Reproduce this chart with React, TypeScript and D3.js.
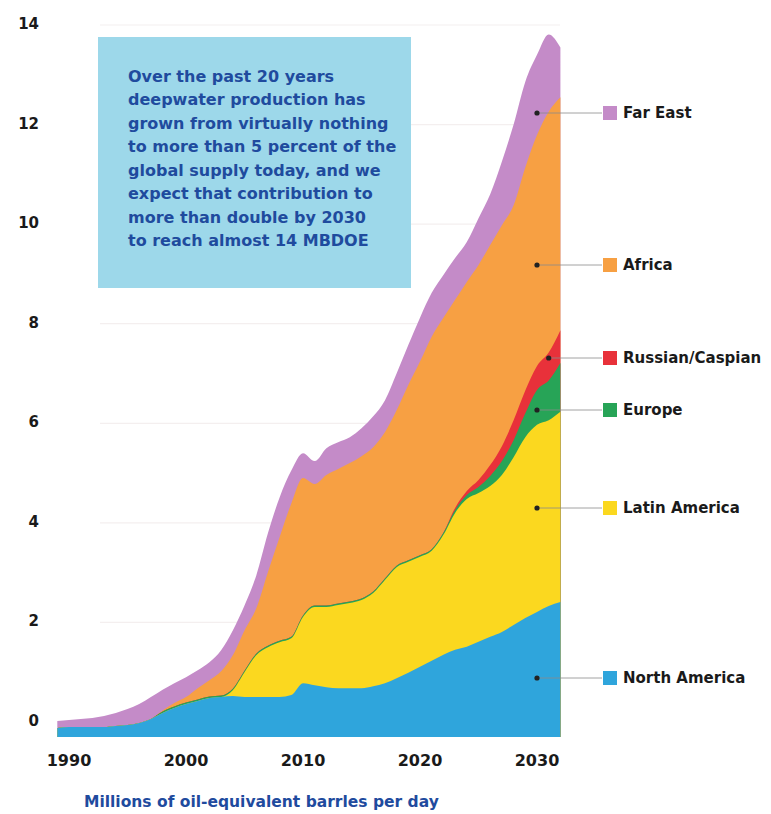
import React from "react";
import * as d3 from "d3";

const years = [1989,1990,1991,1992,1993,1994,1995,1996,1997,1998,1999,2000,2001,2002,2003,2004,2005,2006,2007,2008,2009,2010,2011,2012,2013,2014,2015,2016,2017,2018,2019,2020,2021,2022,2023,2024,2025,2026,2027,2028,2029,2030,2031,2032];

const northAmerica = [0.18,0.2,0.2,0.2,0.2,0.22,0.24,0.28,0.36,0.48,0.58,0.66,0.72,0.78,0.8,0.82,0.8,0.8,0.8,0.8,0.84,1.08,1.04,1.0,0.98,0.98,0.98,1.02,1.08,1.18,1.29,1.41,1.53,1.65,1.75,1.81,1.91,2.01,2.11,2.25,2.39,2.51,2.63,2.71];
const latinAmerica = [0,0,0,0,0,0,0,0,0,0,0,0,0,0,0,0.12,0.5,0.84,1.0,1.1,1.14,1.33,1.57,1.61,1.67,1.71,1.77,1.87,2.07,2.23,2.23,2.21,2.21,2.41,2.75,2.97,2.99,3.03,3.15,3.37,3.63,3.76,3.73,3.82];
const europe = [0,0,0,0,0,0,0,0,0,0.03,0.03,0.03,0.03,0.03,0.03,0.03,0.03,0.03,0.03,0.03,0.03,0.03,0.03,0.03,0.03,0.03,0.03,0.03,0.03,0.03,0.03,0.03,0.03,0.04,0.06,0.08,0.12,0.2,0.28,0.34,0.48,0.7,0.8,0.98];
const russianCaspian = [0,0,0,0,0,0,0,0,0,0,0,0,0,0,0,0,0,0,0,0,0,0,0,0,0,0,0,0,0,0,0,0,0,0,0.04,0.08,0.14,0.22,0.3,0.4,0.46,0.48,0.56,0.66];
const africa = [0,0,0,0,0,0,0,0,0,0.02,0.07,0.11,0.23,0.33,0.49,0.67,0.81,0.91,1.48,2.08,2.68,2.76,2.44,2.62,2.7,2.78,2.86,2.9,2.94,3.12,3.52,3.89,4.27,4.32,4.18,4.2,4.32,4.42,4.44,4.32,4.48,4.64,4.84,4.68];
const farEast = [0.14,0.14,0.16,0.18,0.22,0.26,0.32,0.38,0.44,0.42,0.4,0.4,0.36,0.36,0.42,0.5,0.5,0.66,0.78,0.8,0.66,0.5,0.46,0.54,0.54,0.52,0.56,0.62,0.64,0.74,0.8,0.88,0.88,0.86,0.84,0.8,0.94,1.02,1.28,1.62,1.72,1.61,1.55,1.0];

const seriesKeys = ["northAmerica","latinAmerica","europe","russianCaspian","africa","farEast"];
const seriesLabels = ["North America","Latin America","Europe","Russian/Caspian","Africa","Far East"];
const seriesColors = ["#2fa5dc","#fbd81f","#27a457","#e8313a","#f7a043","#c48bc8"];

const yTicks = [0,2,4,6,8,10,12,14];
const xTicks = [1990,2000,2010,2020,2030];

const noteLines = [
  "Over the past 20 years",
  "deepwater production has",
  "grown from virtually nothing",
  "to more than 5 percent of the",
  "global supply today, and we",
  "expect that contribution to",
  "more than double by 2030",
  "to reach almost 14 MBDOE",
];
const axisTitle = "Millions of oil-equivalent barrles per day";

// stack baseline sits a little below the zero line, as in the original artwork
const BASE = -0.3;

// legend layout (pixel rows) and the year where each leader dot sits
const legendRows = [
  { key: "farEast", y: 113, year: 2030 },
  { key: "africa", y: 265, year: 2030 },
  { key: "russianCaspian", y: 358, year: 2031 },
  { key: "europe", y: 410, year: 2030 },
  { key: "latinAmerica", y: 508, year: 2030 },
  { key: "northAmerica", y: 678, year: 2030 },
];

const W = 771, H = 814;
const FONT = "'DejaVu Sans', sans-serif";

export default function App() {
  const table = years.map((year, i) => ({
    year,
    northAmerica: northAmerica[i],
    latinAmerica: latinAmerica[i],
    europe: europe[i],
    russianCaspian: russianCaspian[i],
    africa: africa[i],
    farEast: farEast[i],
  }));

  const x = d3.scaleLinear().domain([1990, 2030]).range([69, 537]);
  const y = d3.scaleLinear().domain([0, 14]).range([722, 25]);

  const stacked = d3.stack<any>().keys(seriesKeys)(table);

  // each layer drawn as a cumulative area from the baseline, top layer first (no seams)
  const area = d3
    .area<any>()
    .x((d) => x(d.data.year))
    .y0(() => y(BASE))
    .y1((d) => y(d[1] + BASE))
    .curve(d3.curveMonotoneX);

  const colorOf = (k: string) => seriesColors[seriesKeys.indexOf(k)];
  const labelOf = (k: string) => seriesLabels[seriesKeys.indexOf(k)];

  return (
    <svg
      width={W}
      height={H}
      viewBox={`0 0 ${W} ${H}`}
      style={{ position: "absolute", left: 0, top: 0, background: "#fff" }}
    >
      {/* faint grid */}
      {yTicks.map((t) => (
        <line key={"g" + t} x1={100} x2={560} y1={y(t)} y2={y(t)} stroke="#f4efef" strokeWidth={1.2} />
      ))}

      {/* stacked areas */}
      {[...stacked].reverse().map((s) => (
        <path key={s.key} d={area(s) || ""} fill={colorOf(s.key)} />
      ))}

      {/* y tick labels */}
      {yTicks.map((t) => (
        <text
          key={"y" + t}
          x={39}
          y={y(t) - 1}
          textAnchor="end"
          dominantBaseline="central"
          fontFamily={FONT}
          fontWeight="bold"
          fontSize={15}
          fill="#1a1a1a"
        >
          {t}
        </text>
      ))}

      {/* x tick labels */}
      {xTicks.map((t) => (
        <text
          key={"x" + t}
          x={x(t)}
          y={766}
          textAnchor="middle"
          fontFamily={FONT}
          fontWeight="bold"
          fontSize={16}
          fill="#1a1a1a"
        >
          {t}
        </text>
      ))}

      {/* axis title */}
      <text x={84} y={807} fontFamily={FONT} fontWeight="bold" fontSize={15.5} fill="#1f4b9e">
        {axisTitle}
      </text>

      {/* note box */}
      <rect x={98} y={37} width={313} height={251} fill="#9dd8ea" />
      {noteLines.map((line, i) => (
        <text
          key={"n" + i}
          x={128}
          y={81.5 + i * 23.5}
          fontFamily={FONT}
          fontWeight="bold"
          fontSize={16}
          fill="#1f4b9e"
        >
          {line}
        </text>
      ))}

      {/* leaders + legend */}
      {legendRows.map((r) => (
        <g key={"l" + r.key}>
          <line x1={x(r.year)} x2={602} y1={r.y} y2={r.y} stroke="#8c8c8c" strokeWidth={0.8} />
          <circle cx={x(r.year)} cy={r.y} r={2.6} fill="#222" />
          <rect x={603} y={r.y - 7} width={14} height={14} fill={colorOf(r.key)} />
          <text
            x={623}
            y={r.y}
            dominantBaseline="central"
            fontFamily={FONT}
            fontWeight="bold"
            fontSize={15}
            fill="#1a1a1a"
          >
            {labelOf(r.key)}
          </text>
        </g>
      ))}
    </svg>
  );
}
